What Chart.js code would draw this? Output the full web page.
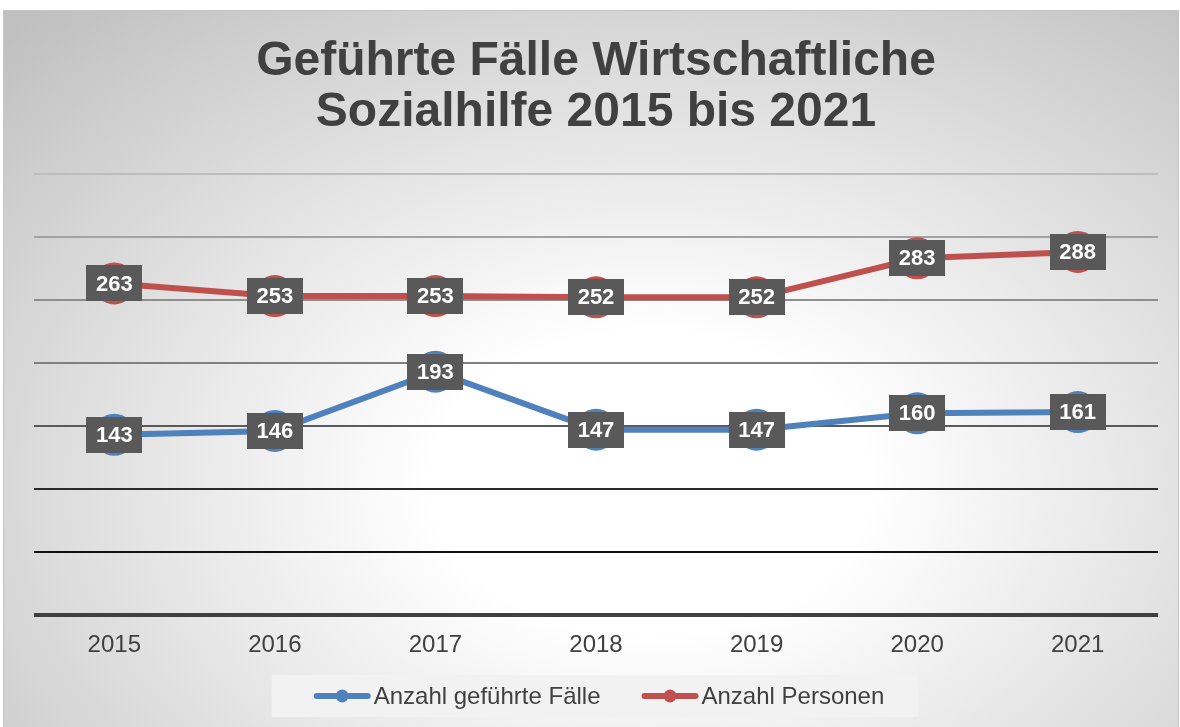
<!DOCTYPE html>
<html><head><meta charset="utf-8">
<script src="https://cdn.jsdelivr.net/npm/chart.js@4"></script>
<style>
html,body{margin:0;padding:0;background:#fff;width:1180px;height:727px;overflow:hidden;}
#bg{position:absolute;left:3px;top:10px;width:1174px;height:716px;border:1px solid #c4c4c4;border-bottom:none;
background:radial-gradient(ellipse 78% 88% at 55% 66%, #ffffff 0%, #ffffff 24%, #c0c0c0 100%);}
#wrap{position:absolute;left:0;top:0;width:1180px;height:727px;}
</style></head><body>
<div id="bg"></div>
<div id="wrap"><canvas id="c" width="1180" height="727"></canvas></div>
<script>
const years = ['2015', '2016', '2017', '2018', '2019', '2020', '2021'];
const faelle = [143, 146, 193, 147, 147, 160, 161];
const personen = [263, 253, 253, 252, 252, 283, 288];
const yTicks = [0, 50, 100, 150, 200, 250, 300, 350];
const titleLines = ['Geführte Fälle Wirtschaftliche', 'Sozialhilfe 2015 bis 2021'];
const seriesNames = ['Anzahl geführte Fälle', 'Anzahl Personen'];
const seriesColors = ['#4f81bd', '#c0504d'];
const gridColors = ['#404040', '#111111', '#2a2a2a', '#5a5a5a', '#808080', '#8e8e8e', '#a2a2a2', '#bdbdbd'];

const FAMILY = '"Liberation Sans", Arial, sans-serif';
Chart.defaults.font.family = FAMILY;

const boxLabels = {
  id: 'boxLabels',
  afterDatasetsDraw(chart) {
    const ctx = chart.ctx;
    ctx.save();
    ctx.font = 'bold 22px ' + FAMILY;
    ctx.textAlign = 'center';
    ctx.textBaseline = 'middle';
    chart.data.datasets.forEach((ds, i) => {
      const meta = chart.getDatasetMeta(i);
      meta.data.forEach((pt, j) => {
        const txt = String(ds.data[j]);
        const w = 56, h = 36;
        ctx.fillStyle = '#595959';
        ctx.fillRect(Math.round(pt.x - w / 2), Math.round(pt.y - h / 2), w, h);
        ctx.fillStyle = '#ffffff';
        ctx.fillText(txt, pt.x, pt.y + 1);
      });
    });
    ctx.restore();
  }
};

const customLegend = {
  id: 'customLegend',
  afterDraw(chart) {
    const ctx = chart.ctx;
    const ca = chart.chartArea;
    ctx.save();
    ctx.font = '24px ' + FAMILY;
    const markerW = 57, gapT = 3, gapItems = 41;
    const ds = chart.data.datasets;
    const tws = ds.map(d => ctx.measureText(d.label).width);
    let total = 0;
    tws.forEach((tw, i) => { total += markerW + gapT + tw + (i ? gapItems : 0); });
    const cx = (ca.left + ca.right) / 2 + 3;
    const start = cx - total / 2;
    const yc = chart.height - 10 - 21;
    ctx.fillStyle = '#f2f2f2';
    ctx.fillRect(start - 42, yc - 21, total + 76, 42);
    let x = start;
    ds.forEach((d, i) => {
      ctx.strokeStyle = d.borderColor;
      ctx.lineWidth = 6;
      ctx.lineCap = 'round';
      ctx.beginPath();
      ctx.moveTo(x + 3, yc);
      ctx.lineTo(x + markerW - 3, yc);
      ctx.stroke();
      ctx.fillStyle = d.borderColor;
      ctx.beginPath();
      ctx.arc(x + markerW / 2, yc, 6.5, 0, Math.PI * 2);
      ctx.fill();
      ctx.fillStyle = '#404040';
      ctx.textAlign = 'left';
      ctx.textBaseline = 'middle';
      ctx.fillText(d.label, x + markerW + gapT, yc + 1);
      x += markerW + gapT + tws[i] + gapItems;
    });
    ctx.restore();
  }
};

new Chart(document.getElementById('c'), {
  type: 'line',
  data: {
    labels: years,
    datasets: [
      { label: seriesNames[0], data: faelle, borderColor: seriesColors[0], backgroundColor: seriesColors[0],
        borderWidth: 6, pointRadius: 21, pointBorderWidth: 0, pointBackgroundColor: seriesColors[0], tension: 0, clip: false },
      { label: seriesNames[1], data: personen, borderColor: seriesColors[1], backgroundColor: seriesColors[1],
        borderWidth: 6, pointRadius: 21, pointBorderWidth: 0, pointBackgroundColor: seriesColors[1], tension: 0, clip: false }
    ]
  },
  options: {
    responsive: false,
    animation: false,
    events: [],
    layout: { padding: { top: 10, left: 34, right: 22, bottom: 52 } },
    plugins: {
      legend: { display: false },
      tooltip: { enabled: false },
      title: {
        display: true, text: titleLines, color: '#404040',
        font: { size: 48, weight: 'bold', lineHeight: 1.05 },
        padding: { top: 27, bottom: 36 }
      }
    },
    scales: {
      x: {
        offset: true,
        grid: { display: false, drawTicks: false, offset: true },
        border: { display: false },
        ticks: { color: '#404040', font: { size: 24 }, padding: 16 },
        afterFit(s) { s.height = 60; }
      },
      y: {
        min: 0, max: 350,
        afterBuildTicks(s) { s.ticks = yTicks.map(v => ({ value: v })); },
        ticks: { display: false },
        border: { display: false },
        grid: {
          drawTicks: false,
          color: ctx => gridColors[yTicks.indexOf(ctx.tick ? ctx.tick.value : 0)] || '#808080',
          lineWidth: ctx => (ctx.tick && ctx.tick.value === 0) ? 4 : 2
        }
      }
    }
  },
  plugins: [boxLabels, customLegend]
});
</script>
</body></html>
